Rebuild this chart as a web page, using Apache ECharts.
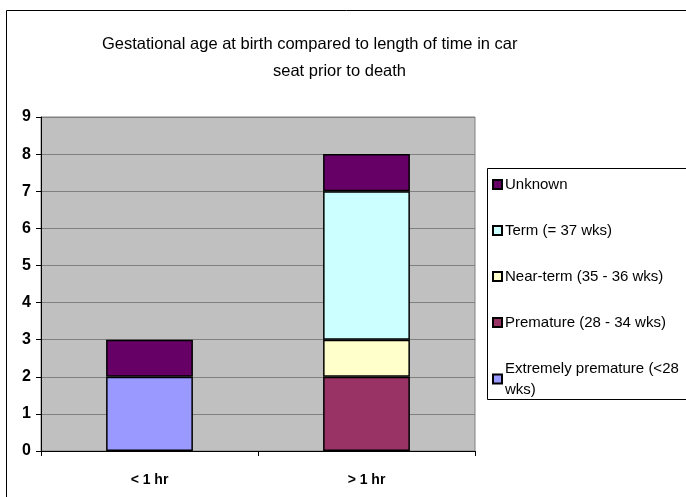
<!DOCTYPE html>
<html>
<head>
<meta charset="utf-8">
<script src="https://cdn.jsdelivr.net/npm/echarts@6/dist/echarts.min.js"></script>
<style>
  html, body { margin: 0; padding: 0; background: #fff; }
  #chart { width: 686px; height: 497px; }
</style>
</head>
<body>
<div id="chart"></div>
<script>
// categories and series values (stacked from bottom up)
var categories = ['< 1 hr', '> 1 hr'];
var extremelyPremature = [2, '-'];
var premature = ['-', 2];
var nearTerm = ['-', 1];
var term = ['-', 4];
var unknown = [1, 1];
var yTicks = [0, 1, 2, 3, 4, 5, 6, 7, 8, 9];

var seriesDefs = [
  { name: 'Extremely premature (<28 wks)', data: extremelyPremature, color: '#9999ff' },
  { name: 'Premature (28 - 34 wks)', data: premature, color: '#993366' },
  { name: 'Near-term (35 - 36 wks)', data: nearTerm, color: '#ffffcc' },
  { name: 'Term (= 37 wks)', data: term, color: '#ccffff' },
  { name: 'Unknown', data: unknown, color: '#660066' }
];

var myChart = echarts.init(document.getElementById('chart'));

var font = 'Liberation Sans, Arial, sans-serif';

var option = {
  animation: false,
  title: [{
    text: 'Gestational age at birth compared to length of time in car',
    left: 97, top: 31,
    textStyle: { fontFamily: font, fontSize: 16.5, fontWeight: 'normal', color: '#000' }
  }, {
    text: 'seat prior to death',
    left: 268, top: 58,
    textStyle: { fontFamily: font, fontSize: 16.5, fontWeight: 'normal', color: '#000' }
  }],
  graphic: [{
    type: 'rect',
    shape: { x: 6.5, y: 10.5, width: 700, height: 500 },
    style: { fill: 'none', stroke: '#000', lineWidth: 1 },
    silent: true
  }, {
    type: 'rect',
    shape: { x: 487.5, y: 168.5, width: 210, height: 231 },
    style: { fill: '#fff', stroke: '#000', lineWidth: 1 },
    silent: true,
    z: 0
  }],
  legend: {
    orient: 'vertical',
    left: 492, top: 174,
    padding: 0,
    itemWidth: 9, itemHeight: 9,
    itemGap: 25,
    icon: 'rect',
    data: ['Unknown', 'Term (= 37 wks)', 'Near-term (35 - 36 wks)', 'Premature (28 - 34 wks)', 'Extremely premature (<28 wks)'],
    formatter: function (name) {
      return name === 'Extremely premature (<28 wks)' ? 'Extremely premature (<28\nwks)' : name;
    },
    textStyle: { fontFamily: font, fontSize: 15, color: '#000', lineHeight: 21, padding: [0, 0, 0, -2] },
    z: 5
  },
  grid: {
    left: 41, top: 117, right: 211, bottom: 46,
    show: true, backgroundColor: '#c0c0c0', borderColor: '#808080', borderWidth: 1
  },
  xAxis: {
    type: 'category',
    data: categories,
    axisLine: { lineStyle: { color: '#000', width: 1 } },
    axisTick: { show: true, length: 5, interval: 0, lineStyle: { color: '#000' } },
    axisLabel: { fontFamily: font, fontSize: 14, fontWeight: 'bold', color: '#000', margin: 22 }
  },
  yAxis: {
    type: 'value',
    min: yTicks[0], max: yTicks[yTicks.length - 1], interval: 1,
    axisLine: { show: true, lineStyle: { color: '#000', width: 1 } },
    axisTick: { show: true, length: 5, lineStyle: { color: '#000' } },
    axisLabel: { fontFamily: font, fontSize: 16, fontWeight: 'bold', color: '#000', margin: 10 },
    splitLine: { lineStyle: { color: '#808080', width: 1 } }
  },
  series: seriesDefs.map(function (s) {
    return {
      name: s.name,
      type: 'bar',
      stack: 'total',
      data: s.data,
      barWidth: '40%',
      itemStyle: { color: s.color, borderColor: '#000', borderWidth: 1.5 }
    };
  })
};

myChart.setOption(option);
</script>
</body>
</html>
